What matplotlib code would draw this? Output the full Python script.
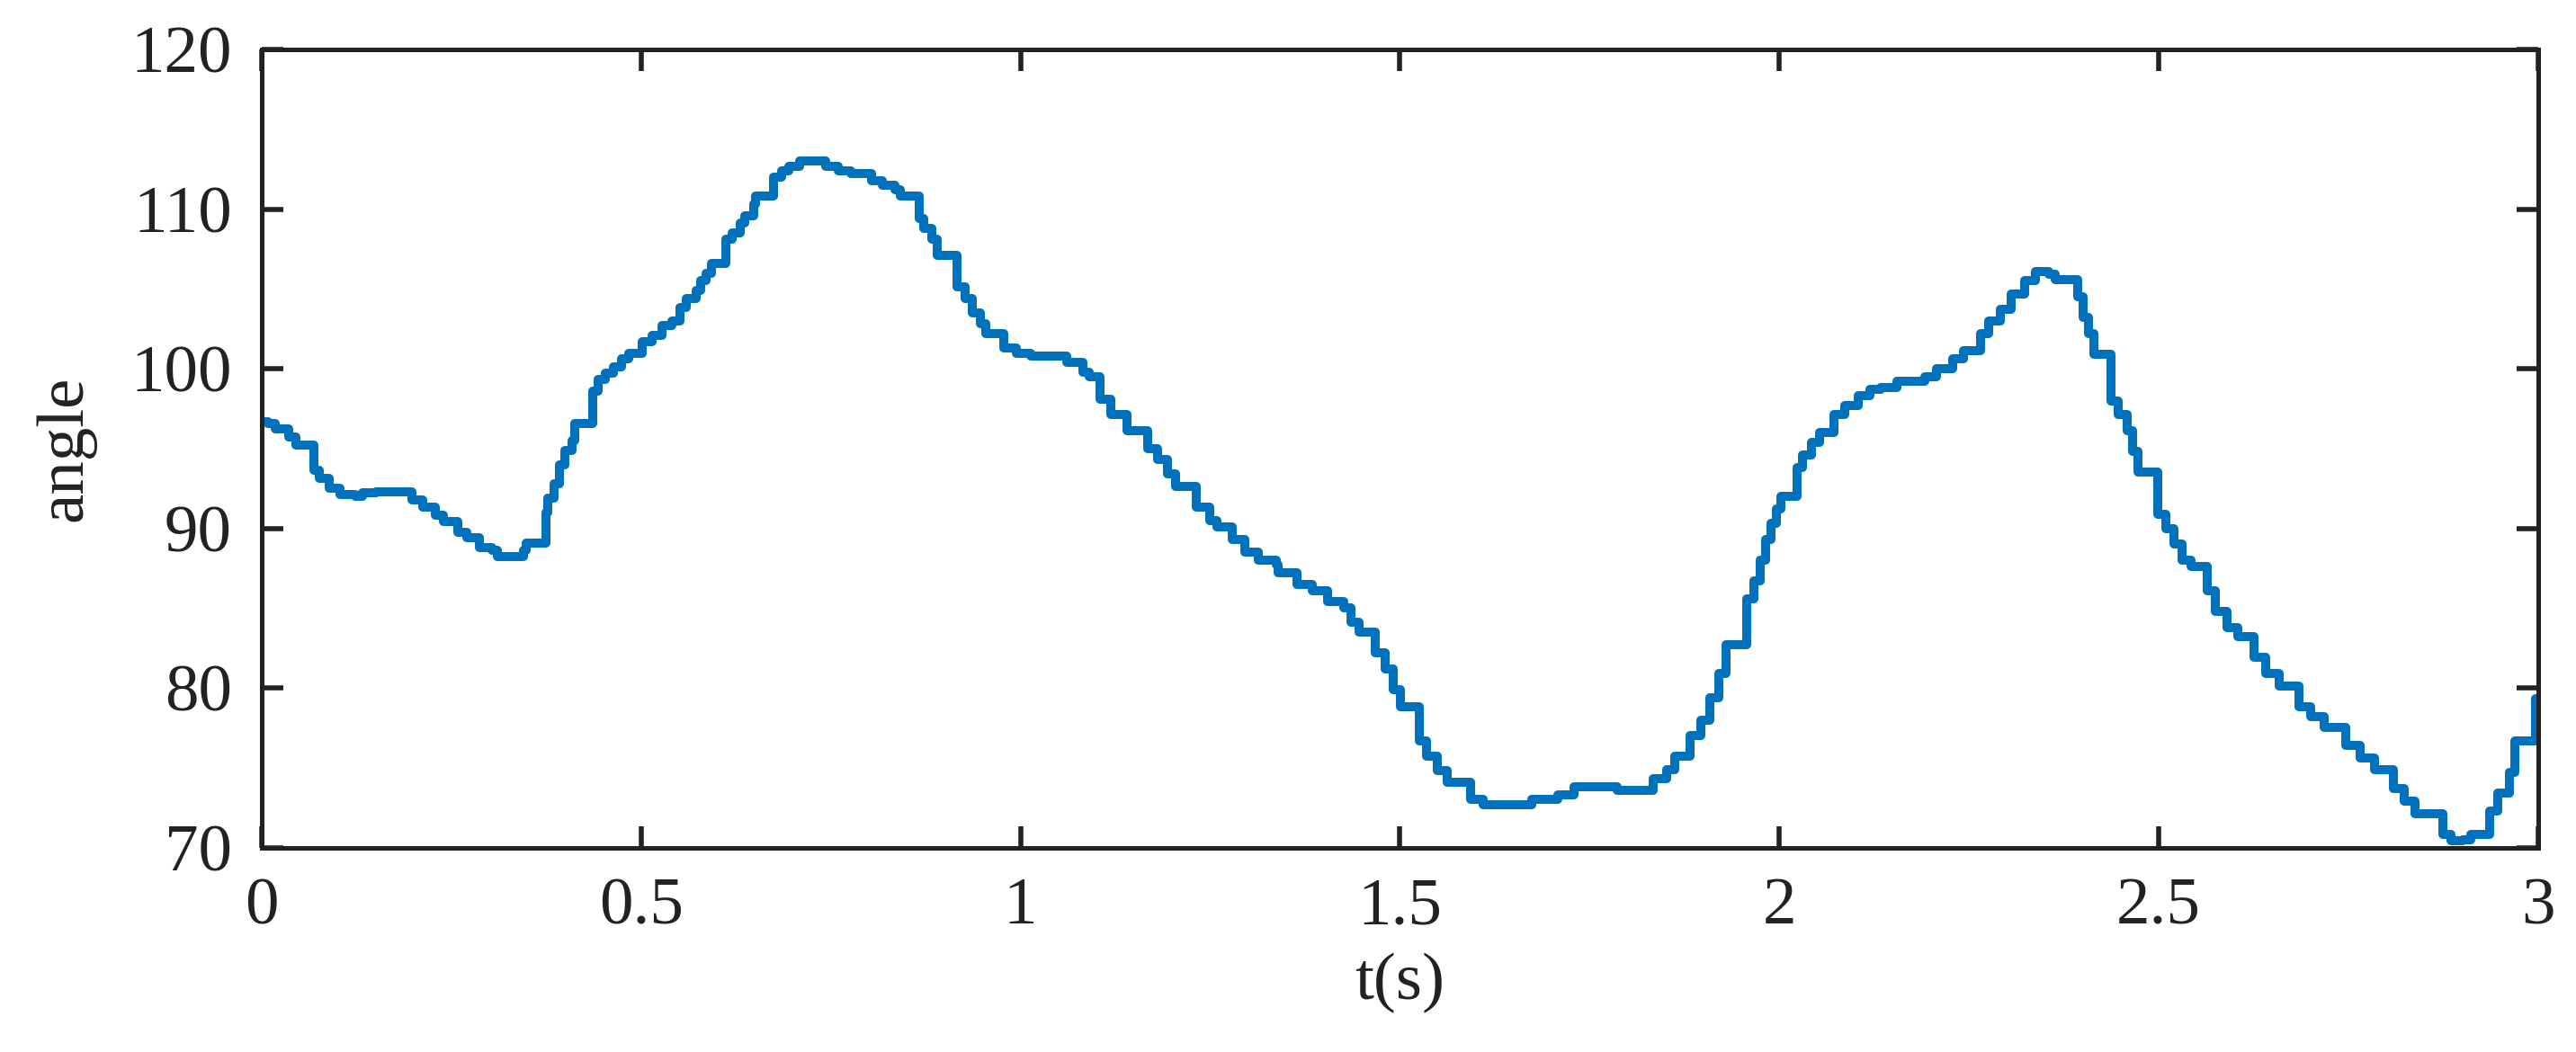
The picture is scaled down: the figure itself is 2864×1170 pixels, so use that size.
import matplotlib
matplotlib.use("Agg")
import matplotlib.pyplot as plt

plt.rcParams['font.family'] = ['Liberation Serif', 'DejaVu Serif']

# time (s) and joint angle
t = [0.000, 0.008, 0.018, 0.035, 0.045, 0.069, 0.076, 0.089, 0.103, 0.123,
     0.133, 0.150, 0.198, 0.212, 0.229, 0.239, 0.258, 0.270, 0.287, 0.304,
     0.310, 0.331, 0.345, 0.348, 0.374, 0.377, 0.385, 0.392, 0.399, 0.409,
     0.413, 0.436, 0.443, 0.453, 0.464, 0.474, 0.484, 0.501, 0.515, 0.528,
     0.540, 0.551, 0.559, 0.573, 0.579, 0.586, 0.593, 0.612, 0.620, 0.631,
     0.637, 0.648, 0.651, 0.675, 0.685, 0.695, 0.709, 0.743, 0.760, 0.777,
     0.804, 0.818, 0.835, 0.842, 0.866, 0.873, 0.883, 0.890, 0.916, 0.927,
     0.937, 0.947, 0.954, 0.978, 0.995, 1.014, 1.061, 1.082, 1.090, 1.105,
     1.119, 1.140, 1.167, 1.181, 1.194, 1.204, 1.232, 1.249, 1.259, 1.279,
     1.296, 1.313, 1.337, 1.340, 1.364, 1.385, 1.405, 1.426, 1.436, 1.446,
     1.467, 1.480, 1.491, 1.501, 1.525, 1.535, 1.549, 1.562, 1.593, 1.610,
     1.674, 1.708, 1.729, 1.786, 1.834, 1.851, 1.862, 1.882, 1.896, 1.909,
     1.920, 1.930, 1.957, 1.966, 1.975, 1.982, 1.989, 1.996, 2.002, 2.023,
     2.031, 2.042, 2.053, 2.072, 2.086, 2.104, 2.119, 2.134, 2.155, 2.192,
     2.207, 2.228, 2.243, 2.265, 2.276, 2.291, 2.305, 2.323, 2.338, 2.355,
     2.363, 2.393, 2.400, 2.407, 2.415, 2.437, 2.447, 2.458, 2.466, 2.473,
     2.499, 2.509, 2.520, 2.531, 2.542, 2.564, 2.575, 2.590, 2.604, 2.626,
     2.641, 2.659, 2.685, 2.700, 2.718, 2.747, 2.766, 2.784, 2.809, 2.823,
     2.838, 2.874, 2.885, 2.900, 2.911, 2.936, 2.947, 2.962, 2.969, 2.996,
     3.000]
angle = [96.7, 96.55, 96.2, 95.7, 95.2, 93.65, 93.15, 92.5, 92.1, 92.0,
         92.2, 92.3, 91.8, 91.3, 90.8, 90.4, 89.75, 89.4, 88.8, 88.6,
         88.2, 88.2, 88.6, 89.1, 91.0, 91.9, 92.8, 94.0, 94.9, 95.5,
         96.55, 98.6, 99.3, 99.7, 100.1, 100.6, 100.95, 101.7, 102.1, 102.7,
         103.0, 103.85, 104.4, 104.9, 105.5, 106.0, 106.6, 108.1, 108.5, 109.1,
         109.6, 110.3, 110.8, 112.0, 112.4, 112.7, 113.0, 112.7, 112.4, 112.2,
         111.8, 111.5, 111.2, 110.8, 109.4, 108.8, 108.1, 107.1, 105.1, 104.4,
         103.5, 102.8, 102.2, 101.3, 100.95, 100.8, 100.4, 99.8, 99.5, 98.1,
         97.1, 96.1, 95.0, 94.3, 93.4, 92.6, 91.3, 90.5, 90.1, 89.3,
         88.5, 88.0, 87.7, 87.2, 86.5, 86.1, 85.4, 85.0, 84.1, 83.5,
         82.2, 81.2, 79.9, 78.8, 76.7, 75.7, 74.8, 74.1, 73.0, 72.7,
         73.0, 73.3, 73.8, 73.6, 74.3, 74.9, 75.7, 77.0, 78.0, 79.4,
         80.9, 82.7, 85.6, 86.7, 88.0, 89.3, 90.3, 91.2, 92.0, 93.8,
         94.6, 95.4, 96.0, 97.1, 97.7, 98.3, 98.7, 98.8, 99.2, 99.5,
         100.0, 100.6, 101.1, 102.2, 103.0, 103.7, 104.7, 105.5, 106.1, 105.9,
         105.6, 104.5, 103.2, 102.2, 100.9, 98.0, 97.1, 96.1, 94.8, 93.5,
         90.9, 90.0, 89.0, 88.0, 87.6, 86.1, 84.8, 83.8, 83.2, 81.9,
         80.9, 80.1, 78.8, 78.2, 77.5, 76.4, 75.6, 74.9, 73.7, 72.9,
         72.1, 70.8, 70.4, 70.5, 70.8, 72.3, 73.4, 74.7, 76.7, 79.3,
         79.3]

xticks = [0, 0.5, 1, 1.5, 2, 2.5, 3]
xlabels = ["0", "0.5", "1", "1.5", "2", "2.5", "3"]
yticks = [70, 80, 90, 100, 110, 120]

fig = plt.figure(figsize=(14.32, 5.85), dpi=200)
ax = fig.add_axes([0.1016, 0.1944, 0.8837, 0.7586])

ax.plot(t, angle, drawstyle='steps-post', color='#0072BD', linewidth=3.6)

ax.set_xlim(0, 3)
ax.set_ylim(70, 120)
ax.set_xticks(xticks)
ax.set_xticklabels(xlabels)
ax.set_yticks(yticks)

for s in ax.spines.values():
    s.set_linewidth(1.8)
    s.set_color('#222222')
ax.tick_params(direction='in', length=8.6, width=2.0, color='#222222',
               top=True, right=True, labelsize=27, labelcolor='#222222', pad=12)

ax.set_xlabel("t(s)", fontsize=27, color='#222222', labelpad=6)
ax.set_ylabel("angle", fontsize=27, color='#222222', labelpad=14)

fig.savefig("out.png", dpi=200)
